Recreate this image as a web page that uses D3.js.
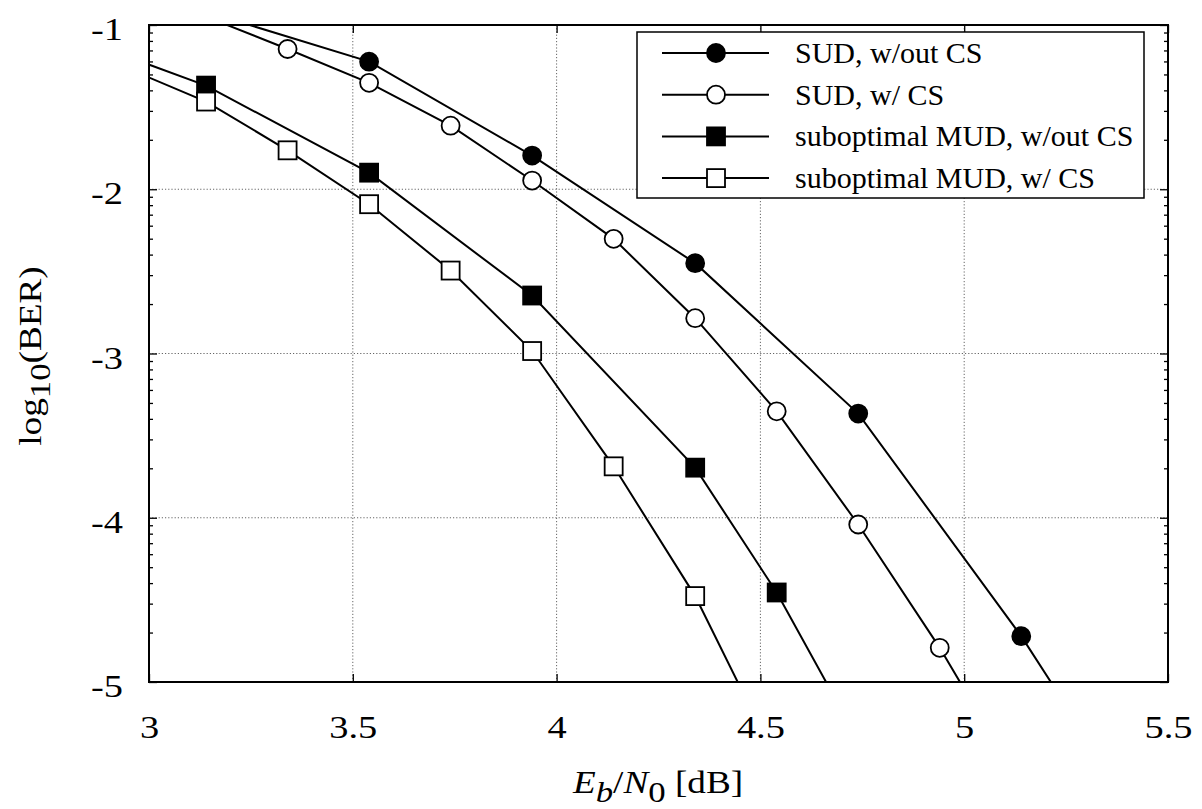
<!DOCTYPE html>
<html lang="en">
<head>
    <meta charset="UTF-8">
    <title>BER vs Eb/N0</title>
    <script src="https://cdnjs.cloudflare.com/ajax/libs/d3/7.8.5/d3.min.js"></script>
    <style>
        body { margin: 0; background: #fff; }
        text { font-family: "Liberation Serif", "Times New Roman", serif; }
    </style>
</head>
<body>

<div id="chart_holder"></div>

<script>
    // series (x in dB, y = log10(BER))
    // first / last points sit outside the frame and get clipped
    var sudNoCsX = [3.14, 3.54, 3.94, 4.34, 4.74, 5.14, 5.34];
    var sudNoCsY = [-0.919, -1.223, -1.795, -2.450, -3.366, -4.721, -5.49];

    var sudCsX = [3.14, 3.34, 3.54, 3.74, 3.94, 4.14, 4.34, 4.54, 4.74, 4.94, 5.14];
    var sudCsY = [-0.949, -1.146, -1.352, -1.613, -1.947, -2.302, -2.785, -3.352, -4.041, -4.792, -5.63];

    var mudNoCsX = [2.94, 3.14, 3.54, 3.94, 4.34, 4.54, 4.74];
    var mudNoCsY = [-1.187, -1.369, -1.899, -2.647, -3.695, -4.455, -5.355];

    var mudCsX = [2.94, 3.14, 3.34, 3.54, 3.74, 3.94, 4.14, 4.34, 4.54];
    var mudCsY = [-1.257, -1.466, -1.763, -2.091, -2.495, -2.985, -3.687, -4.477, -5.48];

    var seriesNames = ["SUD, w/out CS", "SUD, w/ CS", "suboptimal MUD, w/out CS", "suboptimal MUD, w/ CS"];

    var xTicks = [3, 3.5, 4, 4.5, 5, 5.5];
    var xTickLabels = ["3", "3.5", "4", "4.5", "5", "5.5"];
    var yTicks = [-1, -2, -3, -4, -5];
    var yTickLabels = ["-1", "-2", "-3", "-4", "-5"];

    var width = 1202;
    var height = 809;
    var margin = {top: 25, right: 34, bottom: 127, left: 149};
    var w = width - margin.left - margin.right;
    var h = height - margin.top - margin.bottom;

    // the original lettering is a bit wider than Times, stretch it
    var stretch = 1.2;
    var fontSize = 31;

    var svg = d3.select("#chart_holder")
        .append("svg")
        .attr("width", width)
        .attr("height", height);

    var g = svg.append("g")
        .attr("transform", "translate(" + margin.left + "," + margin.top + ")");

    var x = d3.scaleLinear().domain([3, 5.5]).range([0, w]);
    var y = d3.scaleLinear().domain([-5, -1]).range([h, 0]);

    // log-style minor ticks between the decades
    var minorTicks = [];
    for (var d = -5; d < -1; d++) {
        for (var k = 2; k <= 9; k++) minorTicks.push(d + Math.log10(k));
    }

    g.append("clipPath").attr("id", "plotclip")
        .append("rect").attr("width", w).attr("height", h);

    // grid
    var grid = g.append("g").attr("class", "grid");
    grid.selectAll("line.gx")
        .data(xTicks.slice(1, -1))
        .enter().append("line")
        .attr("x1", function(d) { return x(d); })
        .attr("x2", function(d) { return x(d); })
        .attr("y1", 0).attr("y2", h);
    grid.selectAll("line.gy")
        .data(yTicks.slice(1, -1))
        .enter().append("line")
        .attr("y1", function(d) { return y(d); })
        .attr("y2", function(d) { return y(d); })
        .attr("x1", 0).attr("x2", w);
    grid.selectAll("line")
        .attr("stroke", "#666")
        .attr("stroke-width", 1)
        .attr("stroke-dasharray", "1.2,2");

    // axes, ticks pointing inward
    var xAxis = g.append("g")
        .attr("transform", "translate(0," + h + ")")
        .call(d3.axisBottom(x).tickValues(xTicks)
            .tickFormat(function(d, i) { return xTickLabels[i]; })
            .tickSizeInner(-8).tickSizeOuter(0).tickPadding(33));
    g.append("g")
        .call(d3.axisTop(x).tickValues(xTicks).tickFormat("")
            .tickSizeInner(-8).tickSizeOuter(0));

    var yAxis = g.append("g")
        .call(d3.axisLeft(y).tickValues(yTicks)
            .tickFormat(function(d, i) { return yTickLabels[i]; })
            .tickSizeInner(-8).tickSizeOuter(0).tickPadding(26));
    g.append("g")
        .call(d3.axisLeft(y).tickValues(minorTicks).tickFormat("")
            .tickSizeInner(-4).tickSizeOuter(0));
    g.append("g")
        .attr("transform", "translate(" + w + ",0)")
        .call(d3.axisRight(y).tickValues(yTicks).tickFormat("")
            .tickSizeInner(-8).tickSizeOuter(0));
    g.append("g")
        .attr("transform", "translate(" + w + ",0)")
        .call(d3.axisRight(y).tickValues(minorTicks).tickFormat("")
            .tickSizeInner(-4).tickSizeOuter(0));

    g.selectAll(".domain").remove();
    g.selectAll(".tick line").attr("stroke", "#000").attr("stroke-width", 1.3);
    g.selectAll(".tick text")
        .attr("font-family", "Liberation Serif")
        .attr("font-size", 32)
        .attr("fill", "#000")
        .attr("transform", "scale(" + stretch + ",1)");
    yAxis.selectAll(".tick text")
        .attr("x", -26 / stretch)
        .attr("dy", "0.46em");

    // frame
    g.append("rect")
        .attr("width", w).attr("height", h)
        .attr("fill", "none")
        .attr("stroke", "#000")
        .attr("stroke-width", 2);

    // curves
    var series = [
        {xs: sudNoCsX, ys: sudNoCsY, shape: "circle", fill: "#000"},
        {xs: sudCsX, ys: sudCsY, shape: "circle", fill: "#fff"},
        {xs: mudNoCsX, ys: mudNoCsY, shape: "square", fill: "#000"},
        {xs: mudCsX, ys: mudCsY, shape: "square", fill: "#fff"}
    ];

    var line = d3.line()
        .x(function(p) { return x(p[0]); })
        .y(function(p) { return y(p[1]); });

    var plot = g.append("g").attr("clip-path", "url(#plotclip)");

    function drawMarker(sel, s, px, py) {
        if (s.shape === "circle") {
            sel.append("circle")
                .attr("cx", px).attr("cy", py).attr("r", 9)
                .attr("fill", s.fill).attr("stroke", "#000").attr("stroke-width", 1.8);
        } else {
            sel.append("rect")
                .attr("x", px - 9).attr("y", py - 9)
                .attr("width", 18).attr("height", 18)
                .attr("fill", s.fill).attr("stroke", "#000").attr("stroke-width", 1.8);
        }
    }

    series.forEach(function(s) {
        var pts = s.xs.map(function(v, i) { return [v, s.ys[i]]; });
        plot.append("path")
            .datum(pts)
            .attr("d", line)
            .attr("fill", "none")
            .attr("stroke", "#000")
            .attr("stroke-width", 2);
    });
    series.forEach(function(s) {
        s.xs.forEach(function(v, i) {
            var yy = s.ys[i];
            if (v < 3 || v > 5.5 || yy > -1 || yy < -5) return;
            drawMarker(plot, s, x(v), y(yy));
        });
    });

    // legend
    var lg = svg.append("g").attr("transform", "translate(637,32)");
    lg.append("rect")
        .attr("width", 507).attr("height", 166)
        .attr("fill", "#fff")
        .attr("stroke", "#000")
        .attr("stroke-width", 1.5);
    series.forEach(function(s, i) {
        var row = lg.append("g").attr("transform", "translate(0," + (21 + i * 41.7) + ")");
        row.append("line")
            .attr("x1", 25).attr("x2", 132).attr("y1", 0).attr("y2", 0)
            .attr("stroke", "#000").attr("stroke-width", 2);
        drawMarker(row, s, 79, 0);
        row.append("text")
            .attr("x", 158).attr("y", 10)
            .attr("font-size", 30)
            .text(seriesNames[i]);
    });

    // axis titles
    var xt = svg.append("text")
        .attr("transform", "translate(658,793) scale(" + stretch + ",1)")
        .attr("text-anchor", "middle")
        .attr("font-size", fontSize);
    xt.append("tspan").attr("font-style", "italic").text("E");
    xt.append("tspan").attr("font-style", "italic").attr("font-size", 29).attr("dy", 9).text("b");
    xt.append("tspan").attr("dy", -9).text("/");
    xt.append("tspan").attr("font-style", "italic").text("N");
    xt.append("tspan").attr("font-size", 29).attr("dy", 9).text("0");
    xt.append("tspan").attr("dy", -9).text(" [dB]");

    var yt = svg.append("text")
        .attr("transform", "translate(41,356) rotate(-90) scale(" + stretch + ",1)")
        .attr("text-anchor", "middle")
        .attr("font-size", fontSize);
    yt.append("tspan").text("log");
    yt.append("tspan").attr("font-size", 29).attr("dy", 9).text("10");
    yt.append("tspan").attr("dy", -9).text("(BER)");
</script>

</body>
</html>
